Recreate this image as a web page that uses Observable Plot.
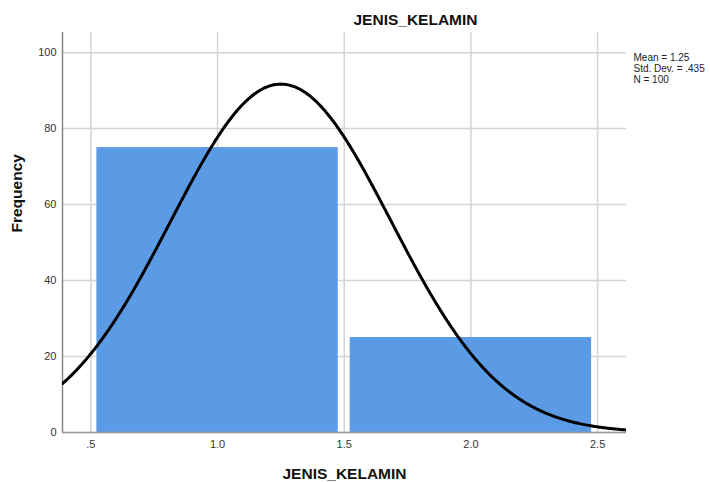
<!DOCTYPE html>
<html>
<head>
<meta charset="utf-8">
<script src="https://cdn.jsdelivr.net/npm/d3@7"></script>
<script src="https://cdn.jsdelivr.net/npm/@observablehq/plot@0.6"></script>
<style>
  html, body { margin: 0; padding: 0; background: #fff; }
  #chart svg { display: block; }
</style>
</head>
<body>
<div id="chart"></div>
<script>
// ---- data ----
const binEdges = [0.5, 1.5, 2.5];
const counts = [75, 25];
const statMean = 1.25;
const statSD = 0.435;
const statN = 100;
const xTicks = [0.5, 1.0, 1.5, 2.0, 2.5];
const xTickLabels = [".5", "1.0", "1.5", "2.0", "2.5"];
const yTicks = [0, 20, 40, 60, 80, 100];
const xDomain = [0.388, 2.614];
const yDomain = [0, 105.3];
const titleText = "JENIS_KELAMIN";
const xLabel = "JENIS_KELAMIN";
const yLabel = "Frequency";
const legendText = ["Mean = 1.25", "Std. Dev. = .435", "N = 100"];

// table for bars
const bars = counts.map((c, i) => ({x1: binEdges[i], x2: binEdges[i + 1], y: c}));

// normal curve from the displayed statistics (N * bin width * density)
const binWidth = binEdges[1] - binEdges[0];
const curve = d3.range(xDomain[0], xDomain[1] + 1e-9, 0.005).map(x => ({
  x,
  y: statN * binWidth * Math.exp(-0.5 * ((x - statMean) / statSD) ** 2) / (statSD * Math.sqrt(2 * Math.PI))
}));

const chart = Plot.plot({
  width: 710,
  height: 482,
  marginLeft: 62,
  marginRight: 84,
  marginTop: 32,
  marginBottom: 50,
  style: {fontFamily: "Liberation Sans, Arial, sans-serif", fontSize: "11px", color: "#222", background: "#fff"},
  x: {domain: xDomain, label: null},
  y: {domain: yDomain, label: null},
  marks: [
    Plot.gridX(xTicks, {stroke: "#d4d4d4", strokeOpacity: 1, strokeWidth: 1.5}),
    Plot.gridY(yTicks, {stroke: "#d4d4d4", strokeOpacity: 1, strokeWidth: 1.5}),
    Plot.rect(bars, {x1: "x1", x2: "x2", y1: 0, y2: "y", fill: "#5b9be6", insetLeft: 6, insetRight: 6}),
    Plot.ruleX([xDomain[0]], {stroke: "#888", strokeWidth: 1.5}),
    Plot.ruleY([0], {stroke: "#999", strokeWidth: 1.5}),
    Plot.line(curve, {x: "x", y: "y", stroke: "#000", strokeWidth: 3, clip: true}),
    Plot.axisY(yTicks, {tickSize: 0, tickPadding: 6, fontSize: 11, fill: "#333", label: null}),
    Plot.axisX(xTicks, {tickSize: 0, tickPadding: 8, fontSize: 11, fill: "#333", label: null,
      tickFormat: d => xTickLabels[xTicks.indexOf(d)]}),
    Plot.text([legendText.join("\n")], {frameAnchor: "top-right", dx: 7, dy: 21, textAnchor: "start",
      lineAnchor: "top", fontSize: 10, lineHeight: 1.1, fill: "#222"}),
    Plot.text([titleText], {frameAnchor: "top", dx: 71, dy: -12, lineAnchor: "middle",
      fontSize: 15.5, fontWeight: "bold", fill: "#111"}),
    Plot.text([xLabel], {frameAnchor: "bottom", dy: 42, lineAnchor: "middle",
      fontSize: 15.5, fontWeight: "bold", fill: "#111"}),
    Plot.text([yLabel], {frameAnchor: "left", dx: -45, rotate: -90, lineAnchor: "middle",
      fontSize: 15.5, fontWeight: "bold", fill: "#111"})
  ]
});
document.getElementById("chart").appendChild(chart);
</script>
</body>
</html>
